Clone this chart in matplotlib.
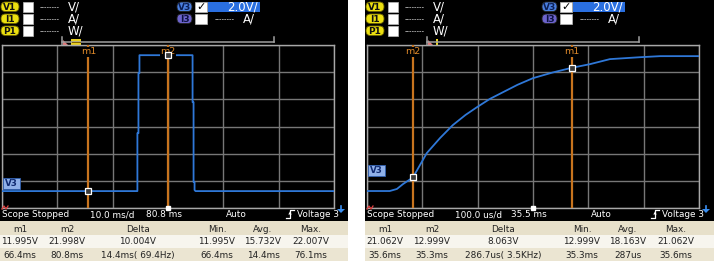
import matplotlib
matplotlib.use("Agg")
import matplotlib.pyplot as plt
import matplotlib.patches as mpatches
from matplotlib.transforms import blended_transform_factory
import numpy as np

W, H, DPI = 714, 261, 100

# ---------------- data ----------------
# left capture: 10 ms/div, centre 80.8 ms, 2.0 V/div
left_t = [50.8, 75.27, 75.27, 75.46, 75.46, 75.64, 75.64, 85.24, 85.24, 85.42, 85.42, 85.60, 85.60, 85.78, 110.8]
left_v = [11.995, 11.995, 16.26, 16.26, 20.68, 20.68, 22.0, 22.0, 18.54, 18.54, 12.66, 12.66, 12.07, 11.995, 11.995]
left_marker_t = [66.4, 80.8]
left_marker_v = [11.995, 21.998]
left_xlim = (50.8, 110.8)

# right capture: 100 us/div, centre 35.5 ms, 2.0 V/div
right_t = [35.200, 35.241, 35.254, 35.265, 35.283, 35.308, 35.332, 35.355, 35.378, 35.399, 35.422,
           35.446, 35.472, 35.500, 35.535, 35.569, 35.603, 35.639, 35.693, 35.730, 35.800]
right_v = [12.0, 12.0, 12.15, 12.51, 12.999, 14.79, 15.9, 16.85, 17.6, 18.18, 18.78,
           19.28, 19.82, 20.31, 20.72, 21.062, 21.34, 21.71, 21.85, 21.93, 21.93]
right_marker_t = [35.5697, 35.283]
right_marker_v = [21.062, 12.999]
right_xlim = (35.2, 35.8)

ylim_v = (10.75, 22.75)
marker_names = ["m1", "m2"]

table_header = ["m1", "m2", "Delta", "Min.", "Avg.", "Max."]
left_row_v = ["11.995V", "21.998V", "10.004V", "11.995V", "15.732V", "22.007V"]
left_row_t = ["66.4ms", "80.8ms", "14.4ms( 69.4Hz)", "66.4ms", "14.4ms", "76.1ms"]
right_row_v = ["21.062V", "12.999V", "8.063V", "12.999V", "18.163V", "21.062V"]
right_row_t = ["35.6ms", "35.3ms", "286.7us( 3.5KHz)", "35.3ms", "287us", "35.6ms"]

left_status = ["Scope Stopped", "10.0 ms/d", "80.8 ms", "Auto", "Voltage 3"]
right_status = ["Scope Stopped", "100.0 us/d", "35.5 ms", "Auto", "Voltage 3"]

# ---------------- styles ----------------
TRACE = "#2f78d8"
MARK = "#c8741e"
MARK_TXT = "#e08a2a"
GRID = "#777777"
FONT = "DejaVu Sans"

fig = plt.figure(figsize=(W / DPI, H / DPI), dpi=DPI)
fig.patch.set_facecolor("white")

bg = fig.add_axes([0, 0, 1, 1], zorder=0)
bg.set_xlim(0, W)
bg.set_ylim(H, 0)
bg.axis("off")

ov = fig.add_axes([0, 0, 1, 1], zorder=3)
ov.set_xlim(0, W)
ov.set_ylim(H, 0)
ov.axis("off")
ov.patch.set_alpha(0)


def rect(a, x0, y0, x1, y1, **kw):
    a.add_patch(mpatches.Rectangle((x0, y0), x1 - x0, y1 - y0, **kw))


def pill(a, x0, y0, x1, y1, fc, txt, tc="#111111", ec="#222222"):
    a.add_patch(mpatches.FancyBboxPatch((x0 + 2, y0 + 0.5), x1 - x0 - 4, y1 - y0 - 1,
                                        boxstyle="round,pad=0,rounding_size=4.5",
                                        fc=fc, ec=ec, lw=0.6, mutation_aspect=1))
    a.text((x0 + x1) / 2, (y0 + y1) / 2 + 0.3, txt, ha="center", va="center",
           fontsize=6.5, fontweight="bold", color=tc, family=FONT)


def panel(ox, ax_xlim, t, v, mt, mv, status, row_v, row_t, yellow_w, v3_lab_y):
    pw = 348 if ox == 0 else 349
    # black body
    rect(bg, ox, 0, ox + pw, 221, fc="black", ec="none")
    # header left group
    for i, (nm, unit) in enumerate([("V1", "V/"), ("I1", "A/"), ("P1", "W/")]):
        y0 = 1.5 + i * 12
        pill(bg, ox - 1, y0, ox + 21, y0 + 10.5, "#ece010", nm, ec="#6a6000")
        rect(bg, ox + 23, y0, ox + 33, y0 + 10.5, fc="white", ec="#bbbbbb", lw=0.5)
        bg.text(ox + 40, y0 + 6, "--------", ha="left", va="center", color="white",
                fontsize=5, family=FONT)
        bg.text(ox + 68, y0 + 5.3, unit, ha="left", va="center", color="white",
                fontsize=8.5, family=FONT)
    # V3 / I3 group
    pill(bg, ox + 175, 1.5, ox + 194, 12, "#4a7fe0", "V3", "#0b1f55")
    rect(bg, ox + 195, 1.5, ox + 207, 12, fc="white", ec="#bbbbbb", lw=0.5)
    bg.text(ox + 201, 7.0, "\u2713", ha="center", va="center", color="black",
            fontsize=8, family=FONT)
    rect(bg, ox + 208, 1.5, ox + 260, 12, fc="#2a6fe0", ec="none")
    bg.text(ox + 258, 7.0, "2.0V/", ha="right", va="center", color="white",
            fontsize=8.5, family=FONT)
    pill(bg, ox + 175, 13.5, ox + 194, 24, "#6c63cc", "I3", "#0b1040")
    rect(bg, ox + 195, 13.5, ox + 207, 24, fc="white", ec="#bbbbbb", lw=0.5)
    bg.text(ox + 215, 19.5, "--------", ha="left", va="center", color="white",
            fontsize=5, family=FONT)
    bg.text(ox + 243, 18.8, "A/", ha="left", va="center", color="white",
            fontsize=8.5, family=FONT)
    # timeline
    bg.plot([ox + 62, ox + 274], [42, 42], color="#a0a0a0", lw=1.1)
    bg.plot([ox + 62, ox + 62], [37, 45], color="#a0a0a0", lw=1.1)
    bg.plot([ox + 274, ox + 274], [37, 42], color="#a0a0a0", lw=1.1)
    bg.add_patch(mpatches.Polygon([(ox + 63, 45), (ox + 63, 40), (ox + 68, 45)],
                                  closed=True, fc="#e07878", ec="none"))
    rect(bg, ox + 71, 38.5, ox + 71 + yellow_w, 45, fc="#e8d020", ec="none")
    if yellow_w > 4:
        bg.plot([ox + 72, ox + 70 + yellow_w], [41.7, 41.7], color="#806000", lw=0.7)
    # status bar
    xs = [ox + 2, ox + 90, ox + 146, ox + 226, ox + 297]
    for x, s in zip(xs, status):
        bg.text(x, 214.5, s, ha="left", va="center", color="white", fontsize=6.4,
                family=FONT)
    # trigger icon
    bg.plot([ox + 286, ox + 290, ox + 290, ox + 294], [218, 218, 210, 210],
            color="white", lw=0.9)
    bg.add_patch(mpatches.Polygon([(ox + 288.3, 214.5), (ox + 291.7, 214.5), (ox + 290, 211.5)],
                                  closed=True, fc="white", ec="none"))
    # blue arrow
    bg.add_patch(mpatches.Polygon([(ox + 337, 209), (ox + 345, 209), (ox + 341, 213)],
                                  closed=True, fc="#3a8ef0", ec="none"))
    bg.plot([ox + 341, ox + 341], [206, 210], color="#3a8ef0", lw=1.2)
    # red icon bottom-left of grid
    ov.plot([ox + 2, ox + 4, ox + 6, ox + 8], [209, 206, 209, 206], color="#e04040", lw=0.9)
    # table
    rect(bg, ox, 221, ox + pw, 235, fc="#e7e0ca", ec="none")
    rect(bg, ox, 235, ox + pw, 248, fc="#f7f5ee", ec="none")
    rect(bg, ox, 248, ox + pw, H, fc="#ebe5d2", ec="none")
    cols = [20, 67, 138, 217, 263, 311]
    for c, h_, a_, b_ in zip(cols, table_header, row_v, row_t):
        bg.text(ox + c, 229, h_, ha="center", va="center", fontsize=6.4, color="#222222", family=FONT)
        bg.text(ox + c, 242, a_, ha="center", va="center", fontsize=6.4, color="#222222", family=FONT)
        bg.text(ox + c, 255.5, b_, ha="center", va="center", fontsize=6.4, color="#222222", family=FONT)

    # grid axes
    gx0, gx1, gy0, gy1 = ox + 2, ox + 334, 45, 208
    ax = fig.add_axes([gx0 / W, 1 - gy1 / H, (gx1 - gx0) / W, (gy1 - gy0) / H], zorder=1)
    ax.set_facecolor("black")
    ax.set_xlim(*ax_xlim)
    ax.set_ylim(*ylim_v)
    ax.set_xticks(np.linspace(ax_xlim[0], ax_xlim[1], 7))
    ax.set_yticks(np.linspace(ylim_v[0], ylim_v[1], 7))
    ax.tick_params(length=0, labelbottom=False, labelleft=False)
    ax.grid(True, color=GRID, lw=1.0)
    for sp in ax.spines.values():
        sp.set_color("#a8a8a8")
        sp.set_linewidth(1.0)
    ax.plot(t, v, color=TRACE, lw=1.3, zorder=3)
    tr = blended_transform_factory(ax.transData, ax.transAxes)
    for name, tm, vm in zip(marker_names, mt, mv):
        ax.axvline(tm, color=MARK, lw=1.6, zorder=4)
        ax.text(tm, 0.985, name, transform=tr, ha="center", va="top", color=MARK_TXT,
                fontsize=6.8, family=FONT, zorder=5,
                bbox=dict(fc="black", ec="none", pad=0.6))
        ax.plot([tm], [vm], marker="s", ms=4.6, mfc="#3a3a3a", mec="white", mew=0.9, zorder=6)
    ctr = (ax_xlim[0] + ax_xlim[1]) / 2
    ax.plot([ctr], [ylim_v[0]], marker="s", ms=3.2, color="white", clip_on=False, zorder=6)
    # V3 label
    rect(ov, ox + 3, v3_lab_y, ox + 20, v3_lab_y + 11, fc="#8fb0e8", ec="#3060b0", lw=0.6)
    ov.text(ox + 11.5, v3_lab_y + 5.8, "V3", ha="center", va="center", fontsize=6.3,
            fontweight="bold", color="#102a70", family=FONT)


panel(0, left_xlim, left_t, left_v, left_marker_t, left_marker_v, left_status,
      left_row_v, left_row_t, 10, 178)
panel(365, right_xlim, right_t, right_v, right_marker_t, right_marker_v, right_status,
      right_row_v, right_row_t, 2, 165)

fig.savefig("out.png", dpi=DPI, facecolor="white")
